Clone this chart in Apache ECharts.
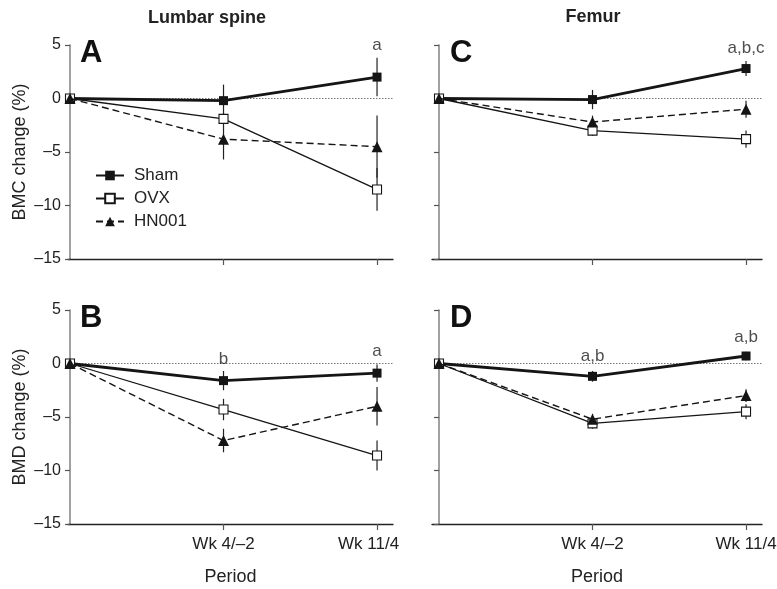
<!DOCTYPE html>
<html><head><meta charset="utf-8">
<script src="https://cdn.jsdelivr.net/npm/echarts@6/dist/echarts.min.js"></script>
<style>html,body{margin:0;padding:0;background:#fff}#c{width:777px;height:589px}</style>
</head><body><div id="c"></div>
<script>
// ---------- data ----------
const categories = ['', 'Wk 4/–2', 'Wk 11/4'];   // x = 0, 1, 2
const groups = ['Sham', 'OVX', 'HN001'];
const panelTitles = ['Lumbar spine', 'Femur'];
const panelLetters = ['A', 'C', 'B', 'D'];
const yNames = ['BMC change (%)', 'BMD change (%)'];
const xName = 'Period';

// Panel A: BMC, lumbar spine
const bmcSpineSham = [0, -0.2, 2.0];
const bmcSpineShamErr = [0, 1.5, 1.8];
const bmcSpineOvx = [0, -1.9, -8.5];
const bmcSpineOvxErr = [0, 0.5, 2.0];
const bmcSpineHn = [0, -3.8, -4.5];
const bmcSpineHnErr = [0, 1.9, 2.9];
// Panel C: BMC, femur
const bmcFemurSham = [0, -0.1, 2.8];
const bmcFemurShamErr = [0, 0.9, 0.7];
const bmcFemurOvx = [0, -3.0, -3.8];
const bmcFemurOvxErr = [0, 0.5, 0.8];
const bmcFemurHn = [0, -2.2, -1.0];
const bmcFemurHnErr = [0, 0.6, 0.8];
// Panel B: BMD, lumbar spine
const bmdSpineSham = [0, -1.6, -0.9];
const bmdSpineShamErr = [0, 0.9, 0.8];
const bmdSpineOvx = [0, -4.3, -8.6];
const bmdSpineOvxErr = [0, 1.0, 1.4];
const bmdSpineHn = [0, -7.2, -4.0];
const bmdSpineHnErr = [0, 1.1, 1.8];
// Panel D: BMD, femur
const bmdFemurSham = [0, -1.2, 0.7];
const bmdFemurShamErr = [0, 0.5, 0.4];
const bmdFemurOvx = [0, -5.6, -4.5];
const bmdFemurOvxErr = [0, 0.5, 0.7];
const bmdFemurHn = [0, -5.2, -3.0];
const bmdFemurHnErr = [0, 0.5, 0.6];

// significance annotations (x category index, y value, text)
const annA = { x: [2], y: [5.0], text: ['a'] };
const annC = { x: [2], y: [4.7], text: ['a,b,c'] };
const annB = { x: [1, 2], y: [0.4, 1.17], text: ['b', 'a'] };
const annD = { x: [1, 2], y: [0.63, 2.48], text: ['a,b', 'a,b'] };

const yMin = -15, yMax = 5, yInterval = 5;

// ---------- layout ----------
const panels = [
  { left: 68,  top: 45,  width: 325, xMin: -0.013, yLabels: true,  xLabels: false, yName: yNames[0], lastPad: 0,
    vals: [bmcSpineSham, bmcSpineOvx, bmcSpineHn], errs: [bmcSpineShamErr, bmcSpineOvxErr, bmcSpineHnErr], ann: annA },
  { left: 432, top: 45,  width: 330, xMin: -0.0456, yLabels: false, xLabels: false, yName: '', lastPad: 0,
    vals: [bmcFemurSham, bmcFemurOvx, bmcFemurHn], errs: [bmcFemurShamErr, bmcFemurOvxErr, bmcFemurHnErr], ann: annC },
  { left: 68,  top: 310, width: 325, xMin: -0.013, yLabels: true,  xLabels: true, yName: yNames[1], lastPad: 17,
    vals: [bmdSpineSham, bmdSpineOvx, bmdSpineHn], errs: [bmdSpineShamErr, bmdSpineOvxErr, bmdSpineHnErr], ann: annB },
  { left: 432, top: 310, width: 330, xMin: -0.0456, yLabels: false, xLabels: true, yName: '', lastPad: 0,
    vals: [bmdFemurSham, bmdFemurOvx, bmdFemurHn], errs: [bmdFemurShamErr, bmdFemurOvxErr, bmdFemurHnErr], ann: annD }
];
const xMax = 2.104;
const FONT = 'Liberation Sans, Arial, Helvetica, sans-serif';
const INK = '#151515';

const styles = [
  { lineStyle: { color: INK, width: 2.8, type: 'solid' }, symbol: 'rect', symbolSize: 9,
    itemStyle: { color: INK, borderColor: INK, borderWidth: 0 } },
  { lineStyle: { color: INK, width: 1.3, type: 'solid' }, symbol: 'rect', symbolSize: 9,
    itemStyle: { color: '#ffffff', borderColor: INK, borderWidth: 1.1 } },
  { lineStyle: { color: INK, width: 1.4, type: [7, 4] }, symbol: 'triangle', symbolSize: 11,
    itemStyle: { color: INK, borderColor: INK, borderWidth: 0 } }
];

function errRender(params, api) {
  const x = api.value(0), y = api.value(1), e = api.value(2);
  if (!e) return null;
  const p1 = api.coord([x, y + e]), p2 = api.coord([x, y - e]);
  return { type: 'line', shape: { x1: p1[0], y1: p1[1], x2: p2[0], y2: p2[1] },
           style: { stroke: '#222', lineWidth: 1.2 } };
}

const grids = [], xAxes = [], yAxes = [], series = [];
panels.forEach((p, i) => {
  grids.push({ left: p.left, top: p.top, width: p.width, height: 214, outerBoundsMode: 'none', containLabel: false });
  const xLabelRich = { n: { fontSize: 17, color: '#222', fontFamily: FONT },
                       s: { fontSize: 17, color: '#222', fontFamily: FONT, padding: [0, p.lastPad, 0, 0] } };
  xAxes.push({
    gridIndex: i, type: 'value', min: p.xMin, max: xMax,
    axisLine: { show: true, onZero: false, lineStyle: { color: '#222', width: 1.3 } },
    axisTick: { show: true, customValues: [1, 2], length: 6, lineStyle: { color: '#555', width: 1.2 } },
    axisLabel: { show: p.xLabels, customValues: [1, 2], hideOverlap: false,
                 formatter: v => { const k = Math.round(v); return (k === 2 ? '{s|' : '{n|') + categories[k] + '}'; },
                 rich: xLabelRich, fontSize: 17, color: '#222', fontFamily: FONT, margin: 12 },
    splitLine: { show: false },
    name: p.xLabels ? xName : '', nameLocation: 'middle', nameGap: 44,
    nameTextStyle: { fontSize: 18, color: '#222', fontFamily: FONT }
  });
  yAxes.push({
    gridIndex: i, type: 'value', min: yMin, max: yMax, interval: yInterval,
    axisLine: { show: true, onZero: true, lineStyle: { color: '#8a8a8a', width: 1.6 } },
    axisTick: { show: true, length: 5, lineStyle: { color: '#555', width: 1.2 } },
    axisLabel: { show: p.yLabels, fontSize: 16, color: '#222', fontFamily: FONT, margin: 7,
                 formatter: v => String(v).replace('-', '–') },
    splitLine: { show: false },
    name: p.yName, nameLocation: 'middle', nameGap: 39,
    nameTextStyle: { fontSize: 18, color: '#222', fontFamily: FONT }
  });
  // zero reference line
  series.push({
    type: 'line', xAxisIndex: i, yAxisIndex: i, silent: true, symbol: 'none', clip: false, z: 0,
    data: [[0, 0], [xMax, 0]], lineStyle: { color: '#777', width: 1, type: [1.5, 1.5] }
  });
  // error bars
  p.vals.forEach((vals, g) => {
    series.push({
      type: 'custom', xAxisIndex: i, yAxisIndex: i, silent: true, clip: false, z: 1,
      renderItem: errRender, encode: { x: 0, y: 1 },
      data: vals.map((v, k) => [k, v, p.errs[g][k]])
    });
  });
  // group lines
  p.vals.forEach((vals, g) => {
    const s = styles[g];
    series.push({
      type: 'line', name: groups[g], xAxisIndex: i, yAxisIndex: i, clip: false, z: 2 + g,
      data: vals.map((v, k) => [k, v]),
      symbol: s.symbol, symbolSize: s.symbolSize, showAllSymbol: true,
      lineStyle: s.lineStyle, itemStyle: s.itemStyle,
      emphasis: { disabled: true }
    });
  });
  // annotations
  series.push({
    type: 'scatter', xAxisIndex: i, yAxisIndex: i, clip: false, silent: true, z: 6,
    symbolSize: 1, itemStyle: { color: 'rgba(0,0,0,0)' },
    data: p.ann.x.map((x, k) => ({ value: [x, p.ann.y[k]], name: p.ann.text[k] })),
    label: { show: true, position: 'inside', formatter: '{b}', fontSize: 17, color: '#222', fontFamily: FONT }
  });
});

const titles = [
  { text: panelTitles[0], left: 207, top: 9, padding: 0, textAlign: 'center',
    textStyle: { fontSize: 18, fontWeight: 'bold', color: '#222', fontFamily: FONT } },
  { text: panelTitles[1], left: 593, top: 8, padding: 0, textAlign: 'center',
    textStyle: { fontSize: 18, fontWeight: 'bold', color: '#222', fontFamily: FONT } }
];
const letterPos = [[80, 38], [450, 38], [80, 303], [450, 303]];
panelLetters.forEach((L, k) => {
  titles.push({ text: L, left: letterPos[k][0], top: letterPos[k][1], padding: 0,
    textStyle: { fontSize: 31, fontWeight: 'bold', color: '#111', fontFamily: FONT } });
});

const chart = echarts.init(document.getElementById('c'), null, { renderer: 'canvas' });
chart.setOption({
  animation: false,
  backgroundColor: '#fff',
  title: titles,
  legend: {
    data: groups, orient: 'vertical', left: 95, top: 167, padding: 0,
    itemWidth: 28, itemHeight: 12, itemGap: 6,
    textStyle: { fontSize: 17, color: '#222', fontFamily: FONT, padding: [0, 0, 0, 5] },
    selectedMode: false
  },
  grid: grids, xAxis: xAxes, yAxis: yAxes, series: series
});
</script></body></html>
